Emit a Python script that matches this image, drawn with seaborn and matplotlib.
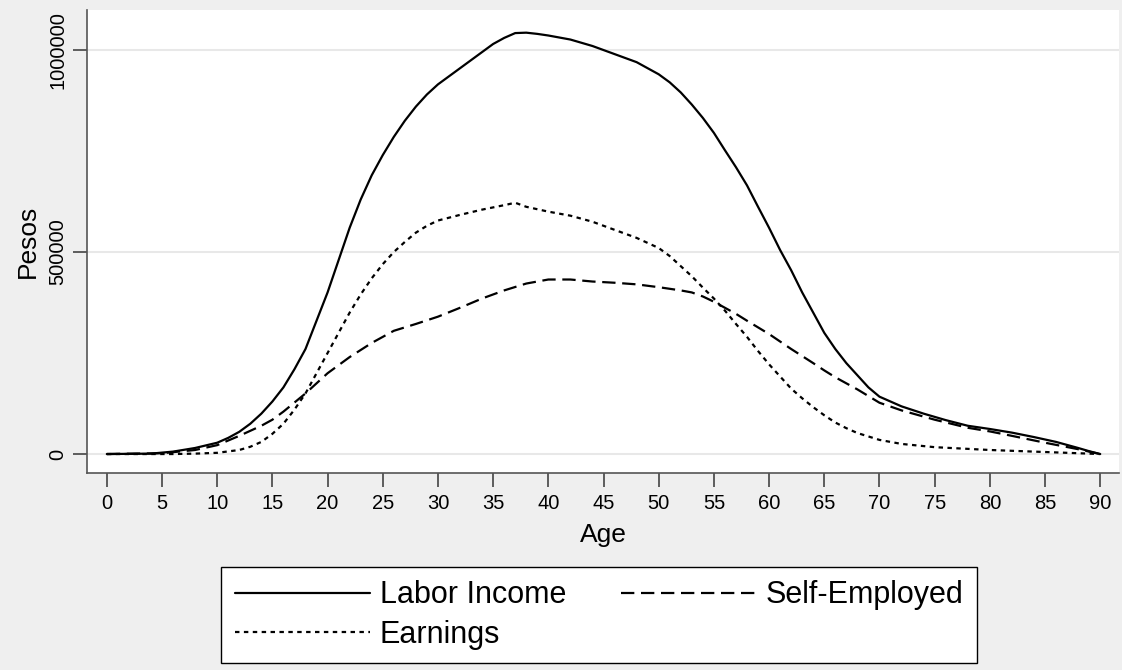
import pandas as pd
import matplotlib.pyplot as plt
import seaborn as sns

# values (pesos by age)
labor_age = [0, 4, 6, 8, 10, 11, 12, 13, 14, 15, 16, 17, 18, 19, 20, 21, 22, 23, 24, 25, 26, 27,
             28, 29, 30, 31, 32, 33, 34, 35, 36, 37, 38, 39, 40, 42, 44, 46, 48, 50, 51, 52, 53,
             54, 55, 56, 57, 58, 59, 60, 61, 62, 63, 64, 65, 66, 67, 68, 69, 70, 72, 74, 76,
             78, 80, 82, 84, 86, 88, 89, 90]
labor_income = [0, 1000, 6000, 15000, 28000, 40000, 55000, 75000, 100000, 130000, 165000,
                210000, 260000, 330000, 400000, 480000, 560000, 630000, 690000, 740000,
                785000, 825000, 860000, 890000, 915000, 935000, 955000, 975000, 995000,
                1015000, 1030000, 1042000, 1043000, 1040000, 1036000, 1026000, 1010000,
                990000, 970000, 940000, 920000, 895000, 865000, 832000, 795000, 752000,
                710000, 665000, 612000, 560000, 505000, 455000, 400000, 350000, 300000,
                260000, 225000, 195000, 165000, 142000, 118000, 100000, 84000, 70000,
                62000, 53000, 42000, 30000, 15000, 7000, 0]

earn_age = [0, 6, 8, 10, 12, 13, 14, 15, 16, 17, 18, 19, 20, 21, 22, 23, 24, 25, 26, 27, 28,
            29, 30, 32, 34, 36, 37, 38, 40, 42, 44, 46, 48, 50, 51, 52, 53, 54, 55, 56, 57,
            58, 59, 60, 61, 62, 63, 64, 65, 66, 67, 68, 70, 72, 75, 80, 85, 88, 90]
earnings = [0, 0, 1000, 3000, 10000, 18000, 30000, 50000, 75000, 110000, 150000, 200000,
            250000, 300000, 350000, 395000, 435000, 470000, 500000, 525000, 548000, 565000,
            578000, 592000, 605000, 616000, 622000, 612000, 600000, 590000, 575000, 555000,
            535000, 510000, 490000, 465000, 440000, 412000, 385000, 355000, 322000, 290000,
            255000, 222000, 192000, 162000, 138000, 116000, 96000, 78000, 64000, 52000,
            35000, 25000, 17000, 10000, 5000, 2000, 0]

self_age = [0, 5, 8, 10, 12, 14, 15, 16, 18, 20, 22, 24, 25, 26, 28, 30, 32, 34, 35, 36, 38,
            40, 42, 44, 46, 48, 50, 52, 53, 54, 55, 56, 57, 58, 60, 62, 64, 65, 66, 68, 70,
            72, 75, 78, 80, 82, 85, 88, 90]
self_employed = [0, 2000, 10000, 22000, 45000, 70000, 85000, 105000, 150000, 200000,
                 240000, 275000, 290000, 305000, 322000, 340000, 362000, 385000, 395000,
                 405000, 422000, 432000, 432000, 427000, 424000, 420000, 413000, 405000,
                 400000, 390000, 377000, 362000, 347000, 330000, 297000, 260000, 225000,
                 207000, 190000, 160000, 127000, 108000, 85000, 65000, 56000, 45000,
                 28000, 12000, 0]

series_order = ["Labor Income", "Earnings", "Self-Employed"]

df = pd.concat([
    pd.DataFrame({"age": labor_age, "pesos": labor_income, "series": "Labor Income"}),
    pd.DataFrame({"age": earn_age, "pesos": earnings, "series": "Earnings"}),
    pd.DataFrame({"age": self_age, "pesos": self_employed, "series": "Self-Employed"}),
])

sns.set_style("white")
plt.rcParams["font.family"] = ["Liberation Sans", "DejaVu Sans"]
plt.rcParams["text.color"] = "black"

bg = "#efefef"
fig = plt.figure(figsize=(11.22, 6.7), dpi=100, facecolor=bg)
ax = fig.add_axes([0.0775, 0.294, 0.9198, 0.691])
ax.set_facecolor("white")

sns.lineplot(data=df, x="age", y="pesos", hue="series", style="series",
             hue_order=series_order, style_order=series_order,
             palette={s: "black" for s in series_order},
             dashes={"Labor Income": "", "Earnings": (2, 2), "Self-Employed": (6, 3)},
             linewidth=1.6, ax=ax, legend=False)

ax.set_xlim(-1.8, 91.7)
ax.set_ylim(-47000, 1099000)
ax.set_xticks(range(0, 91, 5))
ax.set_yticks([0, 500000, 1000000])
ax.set_yticklabels(["0", "500000", "1000000"], rotation=90, va="center")
ax.yaxis.grid(True, color="#e8e8e8", linewidth=1.5)
ax.xaxis.grid(False)
ax.tick_params(axis="both", bottom=True, left=True, direction="out", length=10, width=1.2,
               color="#444444", labelsize=14.5, labelcolor="black", pad=5)
ax.tick_params(axis="y", pad=4)
for side in ["top", "right"]:
    ax.spines[side].set_visible(False)
for side in ["left", "bottom"]:
    ax.spines[side].set_color("#555555")
    ax.spines[side].set_linewidth(1.2)

ax.set_xlabel("Age", fontsize=19, labelpad=7, color="black")
ax.set_ylabel("Pesos", fontsize=19, labelpad=6, color="black")

handles = [plt.Line2D([], [], color="black", lw=1.6, linestyle=ls)
           for ls in ["-", (0, (2, 2)), (0, (6, 3))]]
leg = fig.legend(handles, series_order, loc="center", bbox_to_anchor=(0.534, 0.082),
                 ncol=2, frameon=True, fancybox=False, fontsize=22, handlelength=4.4,
                 columnspacing=1.8, handletextpad=0.33, labelspacing=0.3,
                 borderpad=0.45, edgecolor="black", facecolor="white", framealpha=1)
leg.get_frame().set_linewidth(1.0)

fig.savefig("out.png", dpi=100, facecolor=bg)
